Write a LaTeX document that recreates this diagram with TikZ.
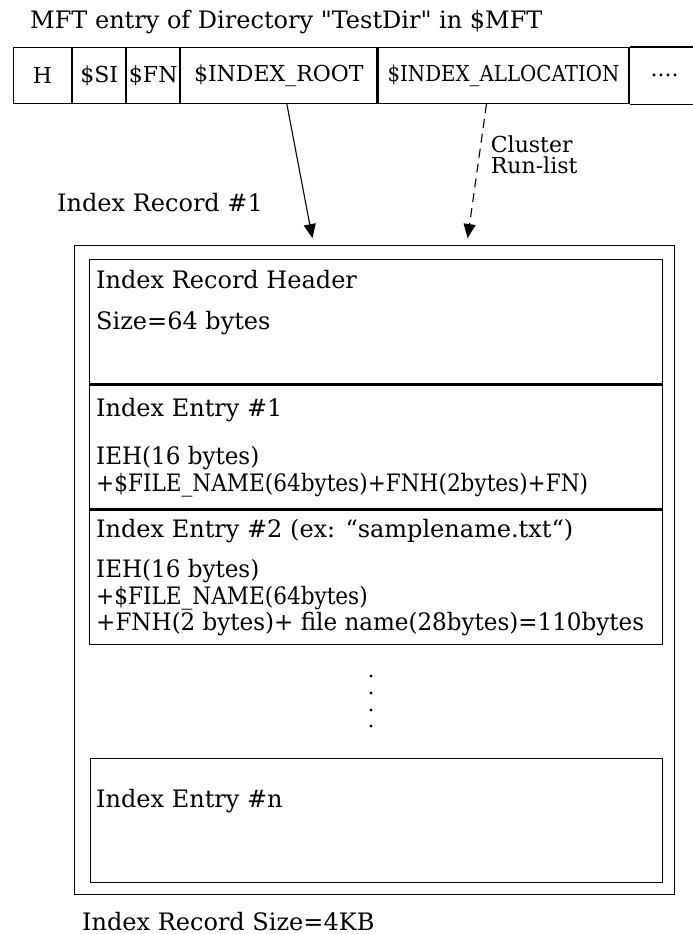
\documentclass[tikz,border=0pt]{standalone}
\usepackage{fontspec}
\setmainfont{DejaVu Serif}[Ligatures=TeXOff]
\newfontfamily\narrowfont{DejaVu Serif}[Ligatures=TeXOff,FakeStretch=0.9]
\newfontfamily\slimfont{DejaVu Serif}[Ligatures=TeXOff,FakeStretch=0.96]
\usetikzlibrary{arrows.meta,positioning,calc}

\begin{document}
\begin{tikzpicture}[x=1pt,y={(0pt,-1pt)},
  txt/.style={font=\fontsize{24}{27}\selectfont, inner sep=0pt, anchor=base west},
  cell/.style={draw, line width=1.1pt, font=\fontsize{22}{24}\selectfont, minimum height=56pt, inner sep=0pt},
  box/.style={draw, line width=1.4pt, inner sep=0pt, anchor=north west},
  link/.style={line width=1.1pt, -{Triangle[length=14pt,width=12pt]}, shorten >=7pt}]
\useasboundingbox (0,0) rectangle (693,934);
% MFT entry row
\node[txt] (title) at (30,29) {MFT entry of Directory "TestDir" in \$MFT};
\node[cell, minimum width=58pt, anchor=north west] (h) at (13,47) {H};
\node[cell, minimum width=53pt, right=0pt of h] (si) {\$SI};
\node[cell, minimum width=53pt, right=0pt of si] (fn) {\$FN};
\node[cell, minimum width=196pt, right=0pt of fn] (root) {\$INDEX\_ROOT};
\node[cell, minimum width=251pt, right=0pt of root] (alloc) {\narrowfont\$INDEX\_ALLOCATION};
\node[cell, draw=none, minimum width=69pt, right=0pt of alloc] (more) {....};
\draw[line width=1.1pt] (more.north west) -- (more.north east) (more.south west) -- (more.south east);
% index record
\node[box, minimum width=600pt, minimum height=649pt] (rec) at (74,245) {};
\node[box, minimum width=573pt, minimum height=124pt] (hdr) at (89,259) {};
\node[box, minimum width=573pt, minimum height=124pt, below=0pt of hdr] (ent1) {};
\node[box, minimum width=573pt, minimum height=134pt, below=0pt of ent1] (ent2) {};
\node[box, minimum width=572pt, minimum height=124pt] (entn) at (90,758) {};
% pointers
\draw[link] ([xshift=8pt]root.south) -- ([xshift=-61pt]rec.north);
\draw[link, dash pattern=on 9pt off 6pt] ([xshift=-17pt]alloc.south) -- ([xshift=92pt]rec.north)
  node[pos=0.36, anchor=west, xshift=11pt, inner sep=0pt, align=left, font=\fontsize{22}{21}\selectfont] (clus) {Cluster\\Run-list};
\node[txt] (recname) at (57,211) {Index Record \#1};
% texts in the record
\node[txt] (hdrtxt) at ($(hdr.north west)+(7,29)$) {Index Record Header};
\node[txt] (hdrsize) at ($(hdr.north west)+(7,70)$) {Size=64 bytes};
\node[txt] (e1txt) at ($(ent1.north west)+(7,32)$) {Index Entry \#1};
\node[txt] (e1a) at ($(ent1.north west)+(7,80)$) {\slimfont IEH(16 bytes)};
\node[txt] (e1b) at ($(e1a.base west)+(0,27)$) {\narrowfont +\$FILE\_NAME(64bytes)+FNH(2bytes)+FN)};
\node[txt] (e2txt) at ($(ent2.north west)+(7,28)$) {Index Entry \#2 (ex: “samplename.txt“)};
\node[txt] (e2a) at ($(ent2.north west)+(7,68)$) {\slimfont IEH(16 bytes)};
\node[txt] (e2b) at ($(e2a.base west)+(0,27)$) {\narrowfont +\$FILE\_NAME(64bytes)};
\node[txt] (e2c) at ($(e2b.base west)+(0,26)$) {\slimfont +FNH(2 bytes)+ file name(28bytes)=110bytes};
\foreach \y in {676,693,710,726} {
  \fill (371,\y) circle (1.6pt);
}
\node[txt] (entntxt) at ($(entn.north west)+(6,49)$) {Index Entry \#n};
\node[txt] (recsize) at (82,930) {Index Record Size=4KB};
\end{tikzpicture}
\end{document}
